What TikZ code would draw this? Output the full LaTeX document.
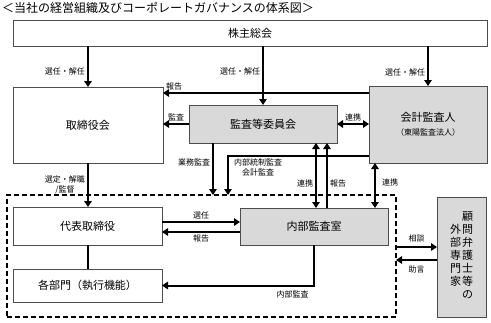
\documentclass[tikz,border=0pt]{standalone}
\usepackage{fontspec}
\setmainfont{Noto Sans CJK JP}
\usetikzlibrary{arrows.meta,calc}
\tikzset{
  box/.style={draw=black!70, line width=0.7pt, inner sep=0pt, outer sep=0pt, anchor=north west, font=\fontsize{11}{13}\selectfont},
  graybox/.style={box, fill=black!15},
  arr/.style={line width=2pt, -{Triangle[length=6pt,width=7.5pt]}},
  dbl/.style={line width=2pt, {Triangle[length=6pt,width=7.5pt]}-{Triangle[length=6pt,width=7.5pt]}},
  lbl/.style={font=\fontsize{8}{9.5}\selectfont, inner sep=2pt},
}
\begin{document}
\begin{tikzpicture}[x=1pt,y=-1pt]
\useasboundingbox (0,0) rectangle (491,322);
\node[anchor=west, inner sep=0pt, font=\fontsize{12}{14}\selectfont] (title) at (2,8) {＜当社の経営組織及びコーポレートガバナンスの体系図＞};
\node[draw, line width=1.1pt, dash pattern=on 5pt off 3pt, minimum width=389pt, minimum height=122pt, anchor=north west, inner sep=0pt, outer sep=0pt] (grp) at (7,195) {};
\node[box, minimum width=474pt, minimum height=26pt] (share) at (13,20) {株主総会};
\node[box, minimum width=150pt, minimum height=76pt] (board) at (13,87) {取締役会};
\node[graybox, minimum width=148pt, minimum height=38pt] (acm) at (189,105) {監査等委員会};
\node[graybox, minimum width=118pt, minimum height=77pt, align=center] (auditor) at (369,86) {会計監査人\\[1pt]{\fontsize{8}{10}\selectfont （東陽監査法人）}};
\node[box, minimum width=149pt, minimum height=38pt] (ceo) at (13,207) {代表取締役};
\node[graybox, minimum width=148pt, minimum height=37pt] (iad) at (240,208) {内部監査室};
\node[box, minimum width=149pt, minimum height=33pt] (dept) at (13,269) {各部門（執行機能）};
\node[graybox, minimum width=49pt, minimum height=120pt] (ext) at (437,197) {\begin{tabular}[c]{@{}c@{}}外\\部\\専\\門\\家\end{tabular}\hspace{1pt}\begin{tabular}[c]{@{}c@{}}顧\\問\\弁\\護\\士\\等\\の\end{tabular}};

% 株主総会から
\draw[arr] (board.north |- share.south) -- (board.north) node[lbl, pos=0.63, left] (l1) {選任・解任};
\draw[arr] (acm.north |- share.south) -- (acm.north) node[lbl, pos=0.44, left] (l2) {選任・解任};
\draw[arr] (auditor.north |- share.south) -- (auditor.north) node[lbl, pos=0.65, left] (l3) {選任・解任};

\coordinate (c1) at ([yshift=-7pt]auditor.north west);
\draw[arr] (c1) -- (c1 -| board.east) node[lbl, pos=1, above right] (l4) {報告};
\draw[arr] (acm.west) -- (acm.west -| board.east) node[lbl, midway, above] (l5) {監査};
\draw[dbl] (acm.east) -- (acm.east -| auditor.west) node[lbl, midway, above] (l6) {連携};

\coordinate (c2) at ([xshift=-50pt]acm.south);
\draw[arr] (c2) -- (c2 |- grp.north) node[lbl, pos=0.38, left] (l7) {業務監査};
\coordinate (c3) at ([yshift=7pt]auditor.south west);
\coordinate (c4) at ([xshift=-35pt]acm.south);
\draw[arr] (c3) -| (c4 |- grp.north) node[lbl, pos=0.5, anchor=north west, align=center, xshift=3pt] (l8) {内部統制監査\\会計監査};

\coordinate (c5) at ([xshift=2pt]iad.north);
\draw[dbl] (c5) -- (c5 |- acm.south) node[lbl, pos=0.38, left] (l9) {連携};
\coordinate (c6) at ([xshift=13pt]iad.north);
\draw[arr] (c6) -- (c6 |- acm.south) node[lbl, pos=0.38, right] (l10) {報告};
\coordinate (c7) at ([xshift=-13pt]iad.north east);
\draw[dbl] (c7 |- auditor.south) -- (c7) node[lbl, pos=0.44, right, xshift=4pt] (l11) {連携};

\draw[arr] (board.south) -- (board.south |- ceo.north) node[lbl, midway, left, align=center] (l12) {選定・解職\\/監督};
\coordinate (c8) at ([yshift=4pt]ceo.east);
\draw[arr] (c8) -- (c8 -| iad.west) node[lbl, midway, above] (l13) {選任};
\coordinate (c9) at ([yshift=-6pt]ceo.east);
\draw[arr] (c9 -| iad.west) -- (c9) node[lbl, midway, below] (l14) {報告};
\draw[line width=2pt] (ceo.south) -- (dept.north);
\draw[arr] (iad.south) |- (dept.east) node[lbl, pos=0.57, below, yshift=-2pt] (l15) {内部監査};

\coordinate (c10) at ([yshift=9pt]grp.east);
\draw[arr] (c10) -- (c10 -| ext.west) node[lbl, midway, above, yshift=2pt] (l16) {相談};
\coordinate (c11) at ([yshift=-4pt]grp.east);
\draw[arr] (c11 -| ext.west) -- (c11) node[lbl, midway, below, yshift=-3pt] (l17) {助言};
\end{tikzpicture}
\end{document}
